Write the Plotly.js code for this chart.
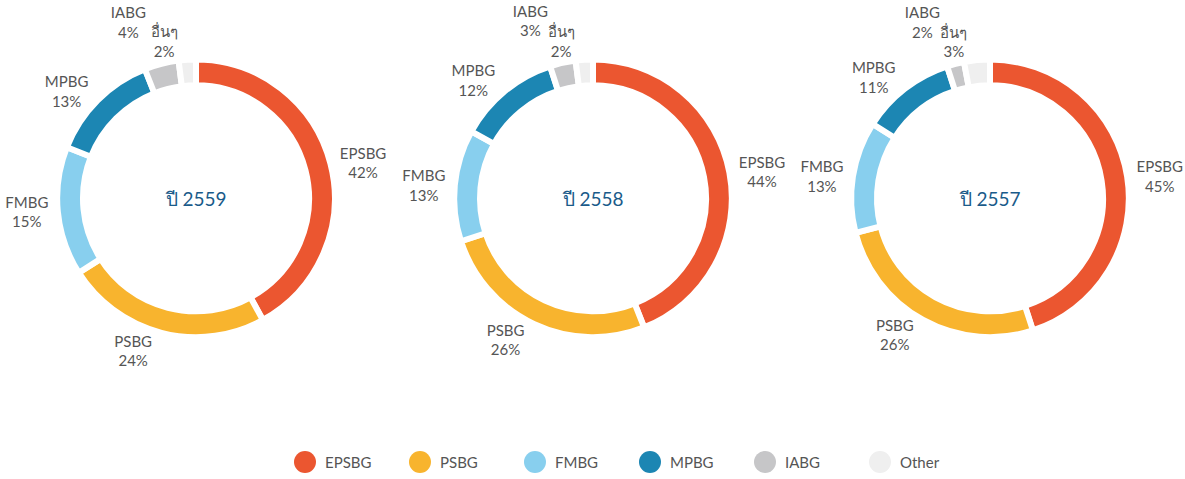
<!DOCTYPE html>
<html>
<head>
<meta charset="utf-8">
<script src="https://cdn.plot.ly/plotly-3.0.1.min.js"></script>
<style>
  html, body { margin: 0; padding: 0; background: #fff; }
  #chart { width: 1185px; height: 479px; }
</style>
</head>
<body>
<div id="chart"></div>
<script>
// กลุ่มธุรกิจ (ชื่อในคำอธิบาย) และชื่อที่แสดงรอบวง
const groups = ["EPSBG", "PSBG", "FMBG", "MPBG", "IABG", "Other"];
const sliceNames = ["EPSBG", "PSBG", "FMBG", "MPBG", "IABG", "อื่นๆ"];
const groupColors = ["#EB5630", "#F8B42E", "#88CFEE", "#1C86B3", "#C6C6C8", "#EFEFEF"];

// สัดส่วนรายได้ (%) แต่ละปี
const years = ["ปี 2559", "ปี 2558", "ปี 2557"];
const share2559 = [42, 24, 15, 13, 4, 2];
const share2558 = [44, 26, 13, 12, 3, 2];
const share2557 = [45, 26, 13, 11, 2, 3];
const shares = [share2559, share2558, share2557];

const fontFamily = 'Lato, "Noto Sans", "DejaVu Sans", sans-serif';

// ตำแหน่งโดนัท (px) : จุดศูนย์กลาง x, y และรัศมี
const W = 1185, H = 479;
const centersX = [196, 593, 990];
const centerY = 200;
const ringR = 140;

// ป้ายแต่ละชิ้นวาดบนชั้นโปร่งใสแยกกัน เพื่อไม่ให้ป้ายเล็กด้านบนถูกดันจนหลุดขอบ
const labelLayer = [0, 0, 0, 0, 1, 2];
const layerScale = [1, 1.18, 1];

function domainFor(cx, r) {
    return {
        x: [(cx - r) / W, (cx + r) / W],
        y: [1 - (centerY + r) / H, 1 - (centerY - r) / H]
    };
}

const data = [];
shares.forEach((vals, i) => {
    // วงโดนัท
    data.push({
        type: "pie",
        labels: groups,
        values: vals,
        textposition: "none",
        hole: 0.814,
        sort: false,
        direction: "clockwise",
        rotation: 0,
        marker: { colors: groupColors, line: { color: "#ffffff", width: 6 } },
        domain: domainFor(centersX[i], ringR),
        title: {
            text: years[i],
            position: "middle center",
            font: { family: fontFamily, size: 19, color: "#1A5B8A" }
        },
        showlegend: i === 0
    });
    // ชั้นป้ายชื่อ
    layerScale.forEach((s, layer) => {
        data.push({
            type: "pie",
            labels: groups,
            values: vals,
            text: sliceNames,
            texttemplate: "%{text}<br>%{value}%",
            textposition: labelLayer.map(l => l === layer ? "outside" : "none"),
            outsidetextfont: { family: fontFamily, size: 15, color: "#555555" },
            hole: 0.814,
            sort: false,
            direction: "clockwise",
            rotation: 0,
            marker: { colors: groups.map(() => "rgba(0,0,0,0)"), line: { width: 0 } },
            domain: domainFor(centersX[i], ringR * s),
            showlegend: false,
            hoverinfo: "skip"
        });
    });
});

const layout = {
    width: W,
    height: H,
    margin: { l: 0, r: 0, t: 0, b: 0 },
    paper_bgcolor: "#ffffff",
    font: { family: fontFamily, color: "#555555" },
    showlegend: true,
    legend: {
        orientation: "h",
        x: 0.2405,
        xanchor: "left",
        y: 0.027,
        yanchor: "middle",
        entrywidth: 70,
        traceorder: "normal",
        font: { family: fontFamily, size: 15, color: "#555555" }
    }
};

Plotly.newPlot("chart", data, layout, { displayModeBar: false, staticPlot: true }).then(gd => {
    // สัญลักษณ์วงกลมในคำอธิบาย
    gd.querySelectorAll("path.legendpie").forEach(p => {
        p.setAttribute("d", "M11,0A11,11 0 1,1 0,-11A11,11 0 0,1 11,0Z");
        p.style.strokeWidth = "0";
    });
});
</script>
</body>
</html>
